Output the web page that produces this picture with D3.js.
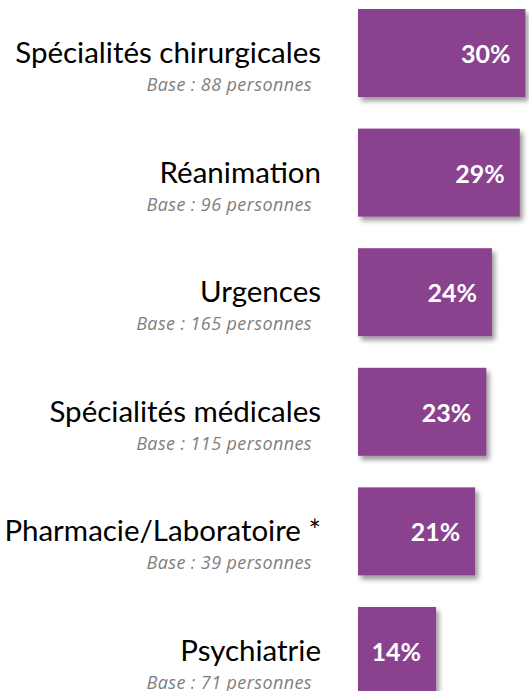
<!DOCTYPE html>
<html>
<head>
<meta charset="utf-8">
<script src="https://cdn.jsdelivr.net/npm/d3@7"></script>
<style>
  body { margin: 0; background: #fff; }
  svg { display: block; }
</style>
</head>
<body>
<div id="chart"></div>
<script>
// data
var categories = ["Spécialités chirurgicales", "Réanimation", "Urgences",
                  "Spécialités médicales", "Pharmacie/Laboratoire *", "Psychiatrie"];
var values = [30, 29, 24, 23, 21, 14];
var bases = [88, 96, 165, 115, 39, 71];

var width = 529, height = 691;

var svg = d3.select("#chart")
    .append("svg")
    .attr("width", width)
    .attr("height", height);

// soft drop shadow under the bars
var f = svg.append("defs").append("filter")
    .attr("id", "shadow")
    .attr("x", "-10%").attr("y", "-10%")
    .attr("width", "130%").attr("height", "130%");
f.append("feDropShadow")
    .attr("dx", 3).attr("dy", 4)
    .attr("stdDeviation", 2.5)
    .attr("flood-color", "#000")
    .attr("flood-opacity", 0.4);

var x = d3.scaleLinear()
    .domain([0, 30])
    .range([358, 525.4]);

var y = d3.scaleBand()
    .domain(categories)
    .range([9, 695])
    .paddingInner(0.264)
    .paddingOuter(0);

var rows = categories.map(function(c, i) {
    return {cat: c, value: values[i], base: bases[i]};
});

var g = svg.selectAll(".row")
    .data(rows)
    .enter()
    .append("g")
    .attr("class", "row");

//Bars
g.append("rect")
    .attr("x", x(0))
    .attr("y", function(d) { return y(d.cat); })
    .attr("width", function(d) { return x(d.value) - x(0); })
    .attr("height", y.bandwidth())
    .attr("fill", "#8a428f")
    .attr("filter", "url(#shadow)");

// value labels inside the bar end
g.append("text")
    .attr("x", function(d) { return x(d.value) - 15; })
    .attr("y", function(d) { return y(d.cat) + 54; })
    .style("text-anchor", "end")
    .style("font-family", "Lato, 'Open Sans', sans-serif")
    .style("font-weight", "bold")
    .style("font-size", "25px")
    .style("fill", "#fff")
    .text(function(d) { return d.value + "%"; });

// category names
g.append("text")
    .attr("x", 321)
    .attr("y", function(d) { return y(d.cat) + 54; })
    .style("text-anchor", "end")
    .style("font-family", "Lato, 'Open Sans', sans-serif")
    .style("font-size", "29.5px")
    .style("fill", "#000")
    .text(function(d) { return d.cat; });

// base sizes
g.append("text")
    .attr("x", 312)
    .attr("y", function(d) { return y(d.cat) + 82; })
    .style("text-anchor", "end")
    .style("font-family", "'Open Sans', sans-serif")
    .style("font-style", "italic")
    .style("font-size", "18px")
    .style("letter-spacing", "0.4px")
    .style("fill", "#7f7f7f")
    .text(function(d) { return "Base : " + d.base + " personnes"; });
</script>
</body>
</html>
